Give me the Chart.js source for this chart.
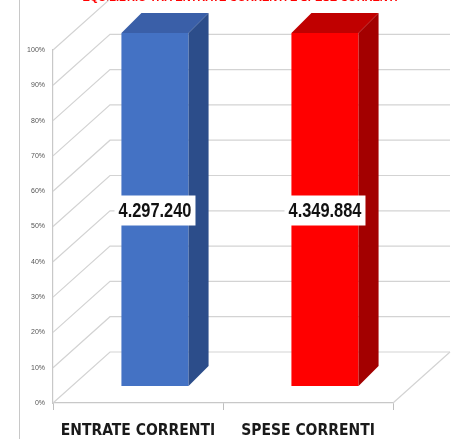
<!DOCTYPE html>
<html>
<head>
<meta charset="utf-8">
<script src="https://cdn.jsdelivr.net/npm/chart.js@4/dist/chart.umd.min.js"></script>
<style>
  html, body { margin: 0; padding: 0; background: #fff; }
  #wrap { position: relative; width: 467px; height: 439px; overflow: hidden; }
  #frame { position: absolute; left: 19px; top: 0; width: 0; height: 439px; border-left: 1px solid #c8c8c8; }
  #chart { position: absolute; left: 0; top: -8px; }
</style>
</head>
<body>
<div id="wrap">
  <div id="frame"></div>
  <canvas id="chart" width="467" height="447"></canvas>
</div>
<script>
const chartTitle = "EQUILIBRIO TRA ENTRATE CORRENTI E SPESE CORRENTI";
const categories = ["ENTRATE CORRENTI", "SPESE CORRENTI"];
const amounts = [4297240, 4349884];
const shares = [100, 100];
const frontColors = ["#4472C4", "#FF0000"];
const sideColors = ["#2C4D8A", "#A30000"];
const topColors = ["#3A5FA8", "#C00000"];

// 3d look
const depth = { wallX: 57, wallY: 51, shiftX: 17, shiftY: 17, barX: 20, barY: 20 };

function formatAmount(n) {
  return String(n).replace(/\B(?=(\d{3})+(?!\d))/g, ".");
}

const walls3d = {
  id: "walls3d",
  beforeDatasetsDraw(chart) {
    const { ctx, chartArea: a, scales: { y } } = chart;
    ctx.save();
    ctx.strokeStyle = "#d3d3d3";
    ctx.lineWidth = 1.2;
    y.ticks.forEach(t => {
      const py = y.getPixelForValue(t.value);
      ctx.beginPath();
      ctx.moveTo(a.left, py);
      ctx.lineTo(a.left + depth.wallX, py - depth.wallY);
      ctx.lineTo(a.right + depth.wallX, py - depth.wallY);
      ctx.stroke();
    });
    // right edge of the floor
    ctx.beginPath();
    ctx.moveTo(a.right, a.bottom);
    ctx.lineTo(a.right + depth.wallX, a.bottom - depth.wallY);
    ctx.stroke();
    ctx.restore();

    // bars sit in the middle of the depth
    ctx.save();
    ctx.translate(depth.shiftX, -depth.shiftY);
  },
  afterDatasetsDraw(chart) {
    const ctx = chart.ctx;
    const meta = chart.getDatasetMeta(0);
    meta.data.forEach((bar, i) => {
      const { x, y, base, width } = bar.getProps(["x", "y", "base", "width"], true);
      const l = x - width / 2;
      const r = x + width / 2;

      // top face
      ctx.fillStyle = topColors[i];
      ctx.beginPath();
      ctx.moveTo(l, y);
      ctx.lineTo(r, y);
      ctx.lineTo(r + depth.barX, y - depth.barY);
      ctx.lineTo(l + depth.barX, y - depth.barY);
      ctx.closePath();
      ctx.fill();

      // side face
      ctx.fillStyle = sideColors[i];
      ctx.beginPath();
      ctx.moveTo(r, y);
      ctx.lineTo(r + depth.barX, y - depth.barY);
      ctx.lineTo(r + depth.barX, base - depth.barY);
      ctx.lineTo(r, base);
      ctx.closePath();
      ctx.fill();

      // value label in a white box, narrow bold text
      const text = formatAmount(amounts[i]);
      const squeeze = 0.82;
      ctx.font = 'bold 20px "Liberation Sans", Arial, sans-serif';
      const tw = ctx.measureText(text).width * squeeze;
      const cy = (y + base) / 2 + 1;
      ctx.fillStyle = "#ffffff";
      ctx.fillRect(x - tw / 2 - 4, cy - 15, tw + 8, 30);
      ctx.save();
      ctx.translate(x, cy + 1);
      ctx.scale(squeeze, 1);
      ctx.fillStyle = "#111111";
      ctx.textAlign = "center";
      ctx.textBaseline = "middle";
      ctx.fillText(text, 0, 0);
      ctx.restore();
    });
    ctx.restore();
  }
};

const ctx = document.getElementById("chart").getContext("2d");

new Chart(ctx, {
  type: "bar",
  data: {
    labels: categories,
    datasets: [
      {
        data: shares,
        backgroundColor: frontColors,
        borderWidth: 0,
        barPercentage: 0.395,
        categoryPercentage: 1,
        clip: false
      }
    ]
  },
  options: {
    responsive: false,
    animation: false,
    devicePixelRatio: 1,
    layout: { padding: { left: 13, right: 0, top: 0, bottom: 0 } },
    plugins: {
      legend: { display: false },
      tooltip: { enabled: false },
      title: {
        display: true,
        text: chartTitle,
        color: "#FF0000",
        font: { family: "Arial, 'Liberation Sans', sans-serif", size: 11, weight: "bold", lineHeight: 1.0 },
        padding: { top: 0, bottom: 47 }
      }
    },
    scales: {
      x: {
        grid: { display: true, drawOnChartArea: false, drawTicks: true, tickLength: 7, color: "#bfbfbf" },
        border: { display: true, color: "#c8c8c8", width: 1.2 },
        ticks: {
          color: "#1a1a1a",
          padding: 12,
          font: { family: "'DejaVu Sans Condensed', Arial, sans-serif", size: 15.5, weight: "bold" }
        },
        afterFit: s => { s.height = 36; }
      },
      y: {
        min: 0,
        max: 100,
        grid: { display: false, drawTicks: false },
        border: { display: true, color: "#c8c8c8", width: 1.2 },
        ticks: {
          stepSize: 10,
          padding: 8,
          color: "#555555",
          font: { family: "Arial, sans-serif", size: 7 },
          callback: v => v + "%"
        },
        afterFit: s => { s.width = 40; }
      },
      // keeps the space right of the floor, so the title stays centred on the page
      spacer: {
        position: "right",
        display: true,
        grid: { display: false },
        border: { display: false },
        ticks: { display: false },
        afterFit: s => { s.width = 74; }
      }
    }
  },
  plugins: [walls3d]
});
</script>
</body>
</html>
